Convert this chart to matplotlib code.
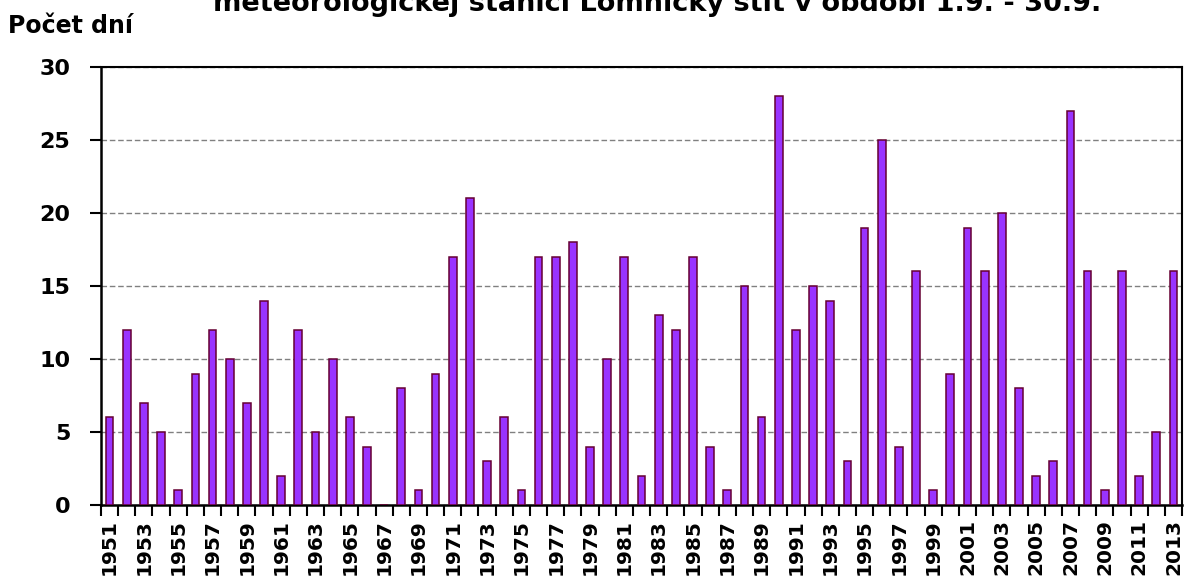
import matplotlib
matplotlib.use("Agg")
import matplotlib.pyplot as plt
import numpy as np

years = list(range(1951, 2014))
days = [6, 12, 7, 5, 1, 9, 12, 10, 7, 14,
        2, 12, 5, 10, 6, 4, 0, 8, 1, 9,
        17, 21, 3, 6, 1, 17, 17, 18, 4, 10,
        17, 2, 13, 12, 17, 4, 1, 15, 6, 28,
        12, 15, 14, 3, 19, 25, 4, 16, 1, 9,
        19, 16, 20, 8, 2, 3, 27, 16, 1, 16,
        2, 5, 16]
y_ticks = [0, 5, 10, 15, 20, 25, 30]
title_text = "meteorologickej stanici Lomnický štít v období 1.9. - 30.9."
ylabel_text = "Počet dní"

plt.rcParams['font.family'] = ['DejaVu Sans']
plt.rcParams['font.weight'] = 'bold'

fig = plt.figure(figsize=(11.89, 5.78), dpi=100)
ax = fig.add_axes([101/1189, 1 - 505/578, 1081/1189, 438/578])

x = np.arange(len(years))
ax.bar(x, days, width=0.45, color='#9933FF', edgecolor='#660033', linewidth=1.1, zorder=3)

ax.set_xlim(-0.5, len(years) - 0.5)
ax.set_ylim(0, 30)
ax.set_yticks(y_ticks)
ax.set_yticklabels([str(v) for v in y_ticks], fontsize=16, fontweight='bold')
ax.yaxis.grid(True, linestyle=(0, (4, 2)), color='#808080', linewidth=1.0, zorder=0)

# boundaries as major ticks, labels at centers (every other year)
ax.set_xticks(np.arange(-0.5, len(years) + 0.5, 1.0))
ax.set_xticklabels([])
ax.set_xticks(x[::2], minor=True)
ax.set_xticklabels([str(y) for y in years[::2]], minor=True, rotation=90,
                   fontsize=14.5, fontweight='bold')
ax.tick_params(axis='x', which='major', direction='out', length=8, width=1.5)
ax.tick_params(axis='x', which='minor', length=0, pad=10)
ax.tick_params(axis='y', direction='out', length=8, width=1.5, pad=14)

for s in ['left', 'bottom']:
    ax.spines[s].set_linewidth(1.8)
for s in ['top', 'right']:
    ax.spines[s].set_linewidth(1.5)
    ax.spines[s].set_color('black')

fig.text(8/1189, 1 - 33/578, ylabel_text, fontsize=17, fontweight='bold', va='baseline', ha='left')
fig.text(657/1189, 1 - 11/578, title_text, fontsize=19.5, fontweight='bold', va='baseline', ha='center')

fig.savefig("out.png", dpi=100)
